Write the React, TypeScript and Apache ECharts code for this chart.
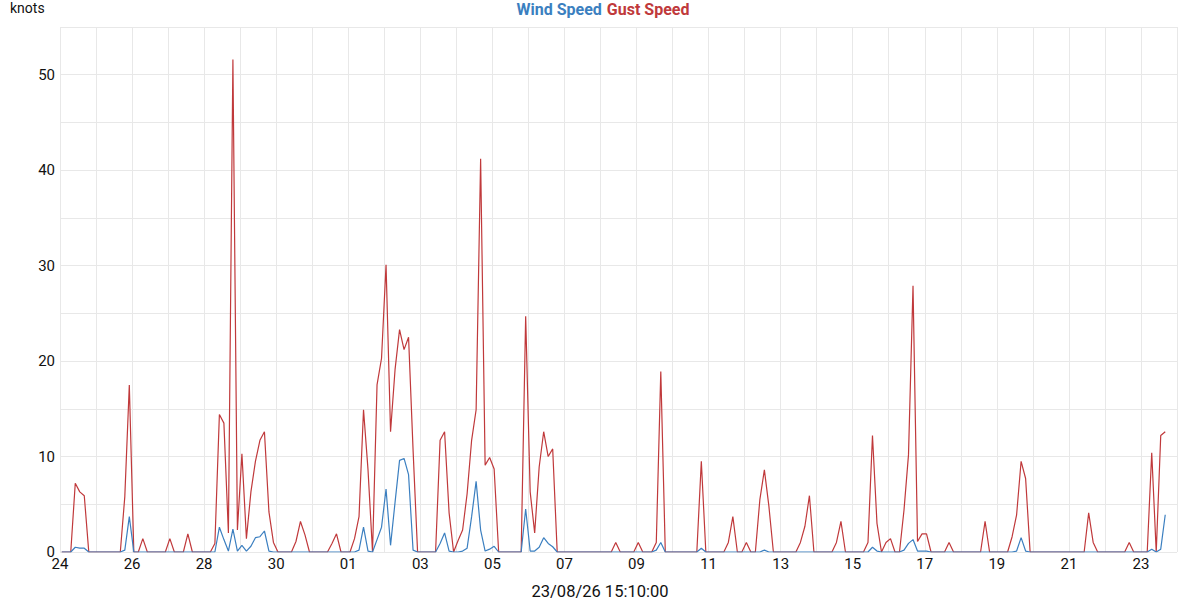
import React, { useEffect, useRef } from "react";
import * as echarts from "echarts";

// Chart texts
const TITLE = "23/08/26 15:10:00";
const Y_NAME = "knots";
const WIND_NAME = "Wind Speed";
const GUST_NAME = "Gust Speed";

// Time base: axis starts 24 Jul 2026 00:00, samples every 3 h from 01:10
const AXIS_START = { year: 2026, month: 6, day: 24 };
const AXIS_DAYS = 31;
const FIRST_SAMPLE_HOURS = 1 + 10 / 60;
const STEP_HOURS = 3;

// Gust speed (knots), one row per day (8 samples)
const gust: number[] = [
  0, 0, 0, 7.2, 6.3, 5.9, 0, 0,
  0, 0, 0, 0, 0, 0, 5.8, 17.5,
  0, 0, 1.4, 0, 0, 0, 0, 0,
  1.4, 0, 0, 0, 1.9, 0, 0, 0,
  0, 0, 0.9, 14.4, 13.5, 2.0, 51.6, 2.3,
  10.3, 1.4, 6.3, 9.5, 11.7, 12.6, 4.2, 1.0,
  0, 0, 0, 0, 1.1, 3.2, 1.8, 0,
  0, 0, 0, 0, 0.9, 1.9, 0, 0,
  0, 1.4, 3.7, 14.9, 8.6, 0, 17.5, 20.3,
  30.1, 12.6, 19.1, 23.3, 21.2, 22.5, 10.7, 0,
  0, 0, 0, 0, 11.7, 12.6, 4.1, 0,
  1.2, 2.3, 6.1, 11.7, 14.9, 41.2, 9.1, 9.9,
  8.7, 0, 0, 0, 0, 0, 0, 24.7,
  6.3, 2.0, 8.9, 12.6, 10.0, 10.8, 0, 0,
  0, 0, 0, 0, 0, 0, 0, 0,
  0, 0, 0, 1.0, 0, 0, 0, 0,
  1.0, 0, 0, 0, 1.0, 18.9, 0, 0,
  0, 0, 0, 0, 0, 0, 9.5, 0,
  0, 0, 0, 0, 1.0, 3.7, 0, 0,
  1.0, 0, 0, 5.5, 8.6, 4.8, 0, 0,
  0, 0, 0, 0, 1.0, 2.7, 5.9, 0,
  0, 0, 0, 0, 1.0, 3.2, 0, 0,
  0, 0, 0, 1.0, 12.2, 3.0, 0, 1.0,
  1.4, 0, 0, 4.4, 10.2, 27.9, 1.1, 1.9,
  1.9, 0, 0, 0, 0, 1.0, 0, 0,
  0, 0, 0, 0, 0, 3.2, 0, 0,
  0, 0, 0, 1.6, 3.9, 9.5, 7.7, 0,
  0, 0, 0, 0, 0, 0, 0, 0,
  0, 0, 0, 0, 4.1, 1.0, 0, 0,
  0, 0, 0, 0, 0, 1.0, 0, 0,
  0, 0, 10.4, 0, 12.2, 12.6,
];

// Wind speed (knots), one row per day (8 samples)
const wind: number[] = [
  0, 0, 0, 0.5, 0.4, 0.4, 0, 0,
  0, 0, 0, 0, 0, 0, 0.2, 3.7,
  0, 0, 0, 0, 0, 0, 0, 0,
  0, 0, 0, 0, 0, 0, 0, 0,
  0, 0, 0, 2.6, 1.3, 0.1, 2.4, 0.1,
  0.7, 0.1, 0.6, 1.5, 1.6, 2.2, 0.1, 0,
  0, 0, 0, 0, 0, 0, 0, 0,
  0, 0, 0, 0, 0, 0, 0, 0,
  0, 0, 0.2, 2.6, 0.1, 0, 1.3, 2.6,
  6.6, 0.7, 5.2, 9.6, 9.8, 8.1, 0.2, 0,
  0, 0, 0, 0, 0.9, 2.0, 0.1, 0,
  0, 0.1, 0.4, 3.7, 7.4, 2.3, 0.1, 0.3,
  0.6, 0, 0, 0, 0, 0, 0, 4.5,
  0.1, 0.1, 0.5, 1.5, 0.9, 0.55, 0, 0,
  0, 0, 0, 0, 0, 0, 0, 0,
  0, 0, 0, 0, 0, 0, 0, 0,
  0, 0, 0, 0, 0.2, 1.0, 0, 0,
  0, 0, 0, 0, 0, 0, 0.4, 0,
  0, 0, 0, 0, 0, 0, 0, 0,
  0, 0, 0, 0, 0.2, 0, 0, 0,
  0, 0, 0, 0, 0, 0, 0, 0,
  0, 0, 0, 0, 0, 0, 0, 0,
  0, 0, 0, 0, 0.5, 0.1, 0, 0,
  0, 0, 0, 0.2, 0.9, 1.3, 0.1, 0.1,
  0.1, 0, 0, 0, 0, 0, 0, 0,
  0, 0, 0, 0, 0, 0, 0, 0,
  0, 0, 0, 0, 0.1, 1.5, 0.1, 0,
  0, 0, 0, 0, 0, 0, 0, 0,
  0, 0, 0, 0, 0, 0, 0, 0,
  0, 0, 0, 0, 0, 0, 0, 0,
  0, 0, 0.3, 0, 0.3, 3.9,
];

const BLUE = "#3b7fc0";
const RED = "#c0393b";
const FONT = "Roboto";

function sampleDay(i: number): number {
  return (FIRST_SAMPLE_HOURS + i * STEP_HOURS) / 24;
}

function dayLabel(d: number): string {
  if (Math.round(d) % 2 !== 0) return "";
  const dt = new Date(Date.UTC(AXIS_START.year, AXIS_START.month, AXIS_START.day + Math.round(d)));
  return String(dt.getUTCDate()).padStart(2, "0");
}

export default function App() {
  const ref = useRef<HTMLDivElement>(null);

  useEffect(() => {
    if (!ref.current) return;
    const chart = echarts.init(ref.current, undefined, { renderer: "svg" });
    chart.setOption({
      animation: false,
      backgroundColor: "#ffffff",
      title: [
        {
          text: Y_NAME,
          left: 10,
          top: 1,
          padding: 0,
          textStyle: { fontFamily: FONT, fontSize: 14, fontWeight: "normal", color: "#111" },
        },
        {
          text: TITLE,
          left: "center",
          top: 583,
          padding: 0,
          textStyle: { fontFamily: FONT, fontSize: 16.5, fontWeight: "normal", color: "#111" },
        },
      ],
      legend: {
        top: 1,
        left: "center",
        padding: 0,
        itemWidth: 0,
        itemHeight: 0,
        itemGap: -1,
        data: [
          { name: WIND_NAME, textStyle: { color: BLUE } },
          { name: GUST_NAME, textStyle: { color: RED } },
        ],
        textStyle: { fontFamily: FONT, fontSize: 16, fontWeight: "bold" },
      },
      grid: { left: 60, right: 23, top: 27, bottom: 48, containLabel: false },
      xAxis: {
        type: "value",
        min: 0,
        max: AXIS_DAYS,
        interval: 1,
        axisLine: { show: false },
        axisTick: { show: false },
        splitLine: { show: true, lineStyle: { color: "#e8e8e8", width: 1 } },
        axisLabel: {
          formatter: (v: number) => dayLabel(v),
          fontFamily: FONT,
          fontSize: 15,
          color: "#111",
          margin: 4,
          showMinLabel: true,
          showMaxLabel: true,
        },
      },
      yAxis: {
        type: "value",
        min: 0,
        max: 55,
        interval: 5,
        axisLine: { show: false },
        axisTick: { show: false },
        splitLine: { show: true, lineStyle: { color: "#e8e8e8", width: 1 } },
        axisLabel: {
          formatter: (v: number) => (v % 10 === 0 ? String(v) : ""),
          fontFamily: FONT,
          fontSize: 15,
          color: "#111",
          margin: 5,
        },
      },
      series: [
        {
          name: GUST_NAME,
          type: "line",
          showSymbol: false,
          symbol: "none",
          color: RED,
          lineStyle: { color: RED, width: 1.2 },
          data: gust.map((v, i) => [sampleDay(i), v]),
        },
        {
          name: WIND_NAME,
          type: "line",
          showSymbol: false,
          symbol: "none",
          color: BLUE,
          lineStyle: { color: BLUE, width: 1.2 },
          data: wind.map((v, i) => [sampleDay(i), v]),
        },
      ],
    });
    return () => chart.dispose();
  }, []);

  return (
    <div
      ref={ref}
      style={{ position: "fixed", left: 0, top: 0, width: 1200, height: 600, background: "#fff" }}
    />
  );
}
